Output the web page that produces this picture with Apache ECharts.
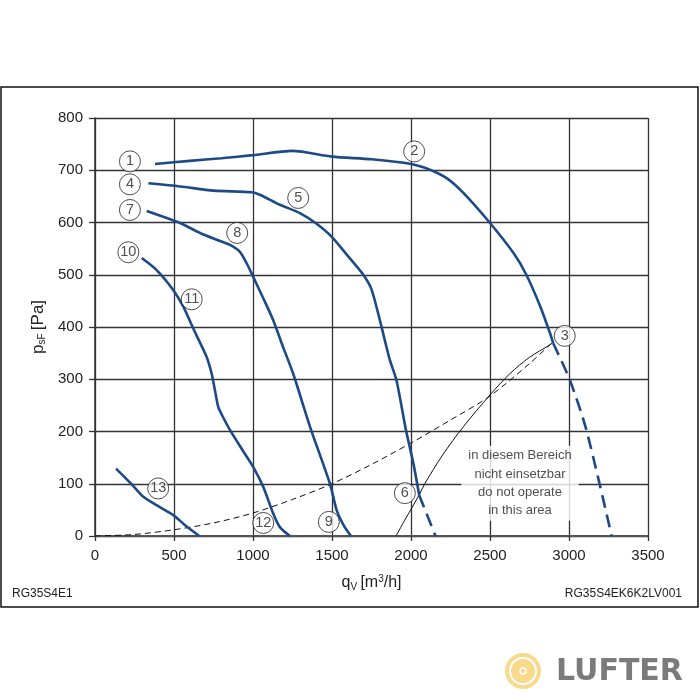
<!DOCTYPE html>
<html><head><meta charset="utf-8">
<script src="https://cdn.jsdelivr.net/npm/echarts@6/dist/echarts.min.js"></script>
<style>html,body{margin:0;padding:0;background:#fff}#c{width:700px;height:700px}</style>
</head><body><div id="c"></div>
<script>
// ---- data ----
const xTickLabels = ['0','500','1000','1500','2000','2500','3000','3500'];
const yTickLabels = ['0','100','200','300','400','500','600','700','800'];

// curve 1 -> 2 -> 3
const curve123 = [[380,712],[600,718],[800,723],[1000,729],[1250,737],[1500,726],[1750,721],[2000,712],[2120,701],[2230,684],[2330,657],[2500,599],[2650,541],[2730,500],[2820,438],[2880,388],[2900,369]];
const curve123Dash = [[2900,369],[3006,298],[3110,203],[3270,0]];
// curve 4 -> 5 -> 6
const curve456 = [[338,675],[540,669],[750,661],[990,658],[1044,653],[1170,634],[1297,618],[1400,598],[1497,573],[1600,536],[1698,500],[1750,472],[1803,413],[1834,375],[1866,337],[1908,298],[1968,203],[2015,139],[2052,78]];
const curve456Dash = [[2052,78],[2155,0]];
// curve 7 -> 8 -> 9
const curve789 = [[327,622],[538,599],[665,580],[770,567],[854,557],[917,544],[960,522],[1001,496],[1065,455],[1128,413],[1190,362],[1254,311],[1361,209],[1487,100],[1530,49],[1575,20],[1620,0]];
// curve 10 -> 11 -> 12
const curve101112 = [[296,532],[390,509],[495,471],[559,439],[622,397],[706,343],[738,311],[759,279],[780,247],[801,233],[854,203],[930,166],[1002,132],[1065,94],[1128,43],[1170,17],[1234,0]];
// curve 13
const curve13 = [[133,129],[232,99],[306,75],[400,57],[496,40],[580,18],[660,0]];
// system curve (dashed black)
const systemCurve = [[0,0],[250,3],[500,12],[750,25],[1000,44],[1250,70],[1500,100],[1750,137],[2000,178],[2250,222],[2500,268],[2750,330],[2900,372]];
// limit line (thin black)
const limitLine = [[1905,0],[1960,30],[2056,81],[2087,100],[2200,155],[2331,209],[2500,270],[2627,311],[2750,342],[2880,366],[2905,372]];
// circled point labels
const pointLabels = ['1','2','3','4','5','6','7','8','9','10','11','12','13'];
const pointPos = [[221,717],[2020,736],[2973,383],[221,673],[1286,647],[1961,82],[221,624],[900,580],[1480,27],[211,543],[612,453],[1065,25],[400,91]];
// note
const noteLines = ['in diesem Bereich','nicht einsetzbar','do not operate','in this area'];
const notePos = [2690,101];

const blue = '#1d4a86';
const chart = echarts.init(document.getElementById('c'), null, {renderer:'canvas'});

function blueLine(data, dashed){
  return {type:'line', data, showSymbol:false, smooth:0.25, silent:true, z:3,
    lineStyle:{color:blue, width:2.6, type: dashed ? [13,7] : 'solid', cap:'butt'}};
}

chart.setOption({
  animation:false,
  backgroundColor:'#fff',
  grid:{left:95, right:52, top:118, bottom:164, containLabel:false},
  xAxis:{type:'value', min:0, max:3500, interval:500,
    name:'{q|q}{sub|V} {q|[m}{sup|3}{q|/h]}', nameLocation:'middle', nameGap:38,
    nameTextStyle:{rich:{
      q:{fontSize:16, color:'#222', fontFamily:'Liberation Sans'},
      sub:{fontSize:10, color:'#222', fontFamily:'Liberation Sans', padding:[8,0,0,0]},
      sup:{fontSize:10, color:'#222', fontFamily:'Liberation Sans', padding:[0,0,8,0]}}},
    axisLine:{show:true, onZero:false, lineStyle:{color:'#555', width:2}},
    axisTick:{show:true, length:5, lineStyle:{color:'#333', width:1.3}},
    axisLabel:{fontSize:15, color:'#222', margin:12, fontFamily:'Liberation Sans',
      formatter:(v)=>xTickLabels[Math.round(v/500)]},
    splitLine:{show:true, lineStyle:{color:'#333', width:1.3}}},
  yAxis:{type:'value', min:0, max:800, interval:100,
    name:'{p|p}{sub|sF} {p|[Pa]}', nameLocation:'middle', nameGap:48, nameRotate:90,
    nameTextStyle:{rich:{
      p:{fontSize:17, color:'#222', fontFamily:'Liberation Sans'},
      sub:{fontSize:10, color:'#222', fontFamily:'Liberation Sans', padding:[8,0,0,0]}}},
    axisLine:{show:true, lineStyle:{color:'#333', width:1.5}},
    axisTick:{show:true, length:6, lineStyle:{color:'#333', width:1.3}},
    axisLabel:{fontSize:15, color:'#222', margin:12, fontFamily:'Liberation Sans',
      formatter:(v)=>yTickLabels[Math.round(v/100)]},
    splitLine:{show:true, lineStyle:{color:'#333', width:1.3}}},
  series:[
    blueLine(curve123,false), blueLine(curve123Dash,true),
    blueLine(curve456,false), blueLine(curve456Dash,true),
    blueLine(curve789,false), blueLine(curve101112,false), blueLine(curve13,false),
    {type:'line', data:systemCurve, showSymbol:false, smooth:0.3, silent:true, z:2,
      lineStyle:{color:'#111', width:1, type:[6,4]}},
    {type:'line', data:limitLine, showSymbol:false, smooth:0.3, silent:true, z:2,
      lineStyle:{color:'#111', width:1}},
    {type:'scatter', z:6, silent:true, symbol:'circle', symbolSize:21,
      data: pointPos.map((p,i)=>({value:p, name:pointLabels[i]})),
      itemStyle:{color:'#fff', borderColor:'#222', borderWidth:1},
      label:{show:true, position:'inside', formatter:(p)=>p.name, fontSize:14.5, color:'#222', fontFamily:'Liberation Sans'}},
    {type:'scatter', z:5, silent:true, symbolSize:0, data:[notePos],
      label:{show:true, position:'inside', formatter:noteLines.join('\n'), fontSize:13, lineHeight:18.3,
        color:'#222', fontFamily:'Liberation Sans', backgroundColor:'#fff', padding:[1,7,1,7], align:'center'}}
  ],
  graphic:[
    {type:'rect', shape:{x:1, y:87, width:697, height:520}, style:{fill:'none', stroke:'#111', lineWidth:1.5}, z:10, silent:true},
    {type:'text', x:12, y:594, style:{text:'RG35S4E1', fontSize:12, fill:'#222', fontFamily:'Liberation Sans', verticalAlign:'middle'}, z:10},
    {type:'text', x:682, y:594, style:{text:'RG35S4EK6K2LV001', fontSize:12, fill:'#222', fontFamily:'Liberation Sans', align:'right', verticalAlign:'middle'}, z:10},
    {type:'circle', shape:{cx:523, cy:671, r:18}, style:{fill:'#f9d98c'}, z:10},
    {type:'circle', shape:{cx:523, cy:671, r:13}, style:{fill:'none', stroke:'#fff', lineWidth:2}, z:10},
    {type:'circle', shape:{cx:523, cy:671, r:3}, style:{fill:'none', stroke:'#fff', lineWidth:1.5}, z:10},
    {type:'text', x:556, y:672, style:{text:'LUFTER', fontSize:30, fontWeight:'bold', fill:'#7b7b7b', fontFamily:'DejaVu Sans', verticalAlign:'middle'}, z:10}
  ]
});
</script></body></html>
